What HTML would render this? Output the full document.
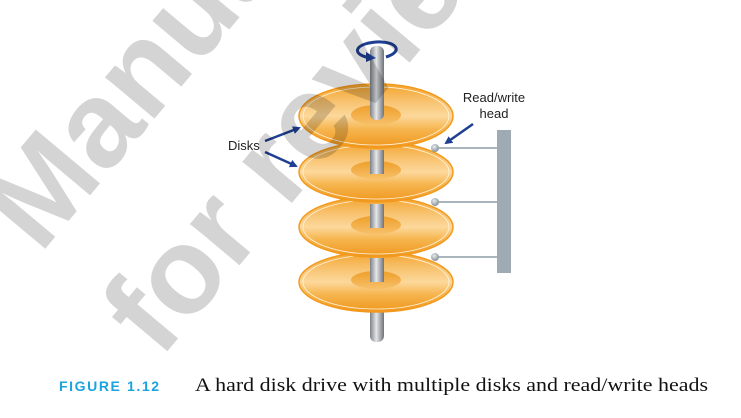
<!DOCTYPE html>
<html><head><meta charset="utf-8"><style>
html,body{margin:0;padding:0;background:#fff;}
body{width:741px;height:418px;overflow:hidden;position:relative;}
</style></head><body>
<svg width="741" height="418" viewBox="0 0 741 418" xmlns="http://www.w3.org/2000/svg" style="position:absolute;left:0;top:0">
<defs>
<linearGradient id="disk" x1="0" y1="0" x2="0" y2="1">
<stop offset="0" stop-color="#f3a42e"/>
<stop offset="0.3" stop-color="#f8c575"/>
<stop offset="0.5" stop-color="#fcd89c"/>
<stop offset="0.7" stop-color="#f6b650"/>
<stop offset="1" stop-color="#ef961c"/>
</linearGradient>
<linearGradient id="hub" x1="0" y1="0" x2="0" y2="1">
<stop offset="0" stop-color="#ee9f2a"/>
<stop offset="1" stop-color="#f7c06a"/>
</linearGradient>
<linearGradient id="spin" x1="0" y1="0" x2="1" y2="0">
<stop offset="0" stop-color="#7d8186"/>
<stop offset="0.45" stop-color="#e4e6e8"/>
<stop offset="1" stop-color="#6f7378"/>
</linearGradient>
<radialGradient id="ball" cx="0.4" cy="0.35" r="0.7">
<stop offset="0" stop-color="#e8ecef"/>
<stop offset="1" stop-color="#7f8a92"/>
</radialGradient>
<marker id="ah" markerWidth="8" markerHeight="8" refX="6" refY="4" orient="auto" markerUnits="userSpaceOnUse">
<path d="M0,0 L8,4 L0,8 Z" fill="#1f3f93"/>
</marker>
</defs>

<rect x="370" y="46" width="14" height="296" rx="6" fill="url(#spin)"/>

<rect x="497" y="130" width="14" height="143" fill="#9eabb4"/>
<line x1="436" y1="148" x2="497" y2="148" stroke="#a9b5bd" stroke-width="2"/>
<line x1="436" y1="202" x2="497" y2="202" stroke="#a9b5bd" stroke-width="2"/>
<line x1="436" y1="257" x2="497" y2="257" stroke="#a9b5bd" stroke-width="2"/>

<g>
<ellipse cx="376" cy="282" rx="77" ry="30" fill="url(#disk)" stroke="#f39a1e" stroke-width="1.5"/>
<ellipse cx="376" cy="282" rx="73" ry="27" fill="none" stroke="#fff3dc" stroke-width="0.8"/>
<ellipse cx="376" cy="280" rx="25" ry="9" fill="url(#hub)"/>
<rect x="370" y="258" width="14" height="24" fill="url(#spin)"/>
</g>
<circle cx="435" cy="257" r="4" fill="url(#ball)"/>
<g>
<ellipse cx="376" cy="227" rx="77" ry="30" fill="url(#disk)" stroke="#f39a1e" stroke-width="1.5"/>
<ellipse cx="376" cy="227" rx="73" ry="27" fill="none" stroke="#fff3dc" stroke-width="0.8"/>
<ellipse cx="376" cy="225" rx="25" ry="9" fill="url(#hub)"/>
<rect x="370" y="204" width="14" height="24" fill="url(#spin)"/>
</g>
<circle cx="435" cy="202" r="4" fill="url(#ball)"/>
<g>
<ellipse cx="376" cy="172" rx="77" ry="30" fill="url(#disk)" stroke="#f39a1e" stroke-width="1.5"/>
<ellipse cx="376" cy="172" rx="73" ry="27" fill="none" stroke="#fff3dc" stroke-width="0.8"/>
<ellipse cx="376" cy="170" rx="25" ry="9" fill="url(#hub)"/>
<rect x="370" y="150" width="14" height="24" fill="url(#spin)"/>
</g>
<circle cx="435" cy="148" r="4" fill="url(#ball)"/>
<g>
<ellipse cx="376" cy="116" rx="77" ry="32" fill="url(#disk)" stroke="#f39a1e" stroke-width="1.5"/>
<ellipse cx="376" cy="116" rx="73" ry="29" fill="none" stroke="#fff3dc" stroke-width="0.8"/>
<ellipse cx="376" cy="115" rx="25" ry="10" fill="url(#hub)"/>
<rect x="370" y="46" width="14" height="74" rx="6" fill="url(#spin)"/>
</g>

<path d="M372,58 C352,56 352,44 376,42 C398,41 403,52 386,57" fill="none" stroke="#1f3f93" stroke-width="3"/>
<path d="M366,52 L376,58 L366,62 Z" fill="#1f3f93"/>

<text x="228" y="150" font-family="Liberation Sans, sans-serif" font-size="13" fill="#222">Disks</text>
<text x="494" y="102" text-anchor="middle" font-family="Liberation Sans, sans-serif" font-size="13" fill="#222">Read/write</text>
<text x="494" y="118" text-anchor="middle" font-family="Liberation Sans, sans-serif" font-size="13" fill="#222">head</text>
<line x1="265" y1="141" x2="299" y2="128" stroke="#1f3f93" stroke-width="2.5" marker-end="url(#ah)"/>
<line x1="265" y1="152" x2="296" y2="166" stroke="#1f3f93" stroke-width="2.5" marker-end="url(#ah)"/>
<line x1="473" y1="124" x2="446" y2="143" stroke="#1f3f93" stroke-width="2.5" marker-end="url(#ah)"/>

<g font-family="Liberation Sans, sans-serif" font-weight="bold" font-size="122" fill="rgba(0,0,0,0.17)">
<text transform="translate(40,255) rotate(-50)">Manual</text>
<text transform="translate(160,360) rotate(-50)">for review</text>
</g>

<text x="59" y="391" font-family="Liberation Sans, sans-serif" font-weight="bold" font-size="14" letter-spacing="1.6" fill="#1ba3e0">FIGURE 1.12</text>
<text x="195" y="391" font-family="Liberation Serif, serif" font-size="19" fill="#111" textLength="513" lengthAdjust="spacingAndGlyphs">A hard disk drive with multiple disks and read/write heads</text>
</svg>
</body></html>
